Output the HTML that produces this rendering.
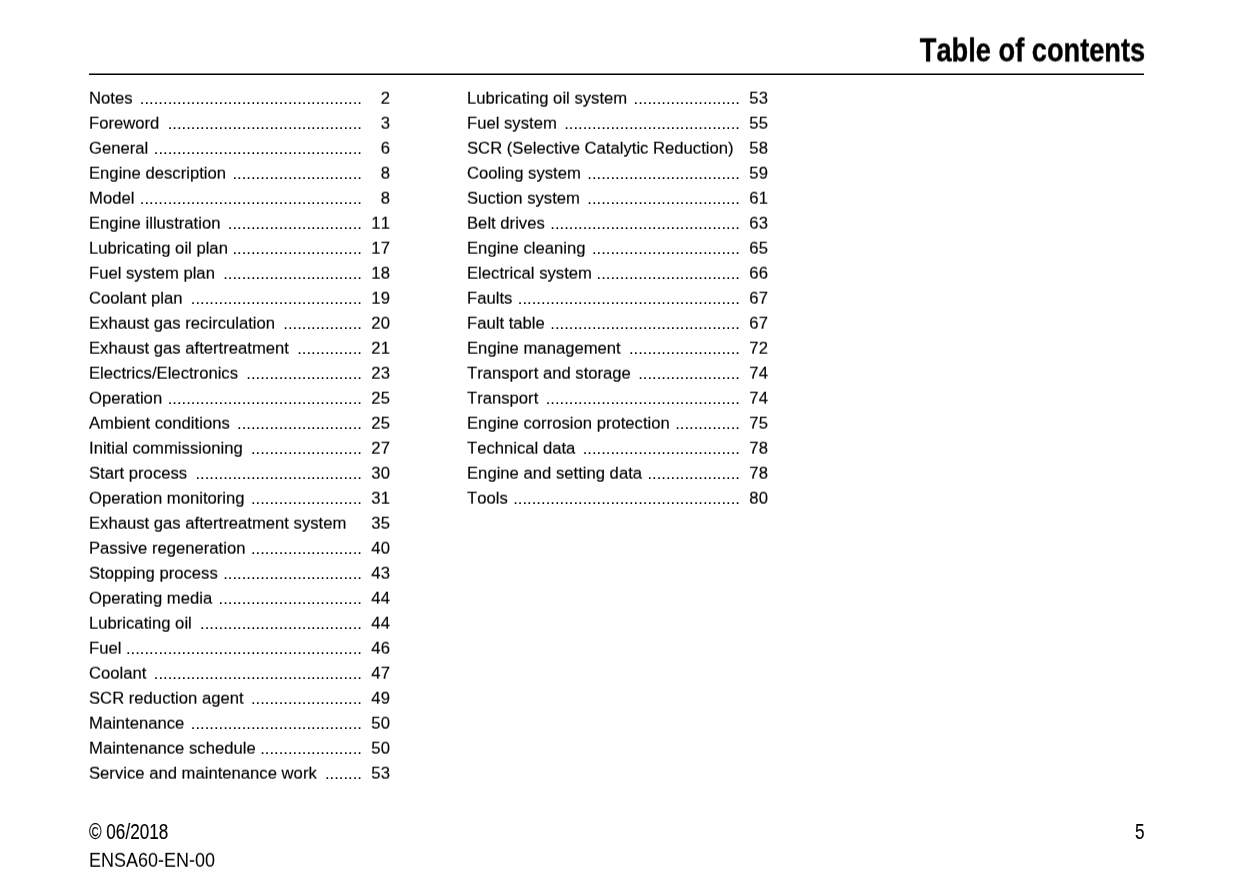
<!DOCTYPE html>
<html lang="en">
<head>
<meta charset="utf-8">
<title>Table of contents</title>
<style>
html,body{margin:0;padding:0;background:#fff;}
body{width:1240px;height:884px;position:relative;overflow:hidden;font-family:"Liberation Sans",sans-serif;color:#000;font-kerning:none;}
.title{position:absolute;right:95.1px;top:31px;font-weight:bold;font-size:33px;line-height:38px;white-space:nowrap;-webkit-text-stroke:0.4px #000;transform:perspective(1000px) translate3d(0,0.4px,0.01px) scaleX(0.825);transform-origin:100% 50%;}
.rule{position:absolute;left:89px;top:73px;width:1055px;height:2px;background:linear-gradient(to bottom,#7c7c7c 0,#7c7c7c 1px,#000 1px,#000 2px);}
.toc{position:absolute;left:0;top:0;width:1240px;height:884px;transform:perspective(1000px) translate3d(0,0.65px,0.01px);}
.r{position:absolute;width:300.9px;height:25.0px;line-height:25.0px;font-size:16.67px;white-space:nowrap;-webkit-text-stroke:0.15px #000;}
.r .l{position:absolute;left:0;top:0;}
.d{position:absolute;width:273.0px;height:25.0px;line-height:25.0px;font-size:16.67px;white-space:nowrap;text-align:right;overflow:hidden;}
.r .n{position:absolute;right:0;top:0;}
.f1{position:absolute;left:88.5px;top:820px;font-size:20.7px;line-height:24px;white-space:nowrap;-webkit-text-stroke:0.15px #000;transform:scale(0.827,1.04);transform-origin:0 50%;}
.f2{position:absolute;left:88.5px;top:848px;font-size:19.3px;line-height:24px;white-space:nowrap;transform:perspective(1000px) translate3d(0,0.8px,0.01px) scaleX(0.934);transform-origin:0 50%;}
.pg{position:absolute;right:95.1px;top:820px;font-size:20.7px;line-height:24px;white-space:nowrap;-webkit-text-stroke:0.15px #000;transform:scale(0.827,1.04);transform-origin:100% 50%;}
</style>
</head>
<body>
<div class="title">Table of contents</div>
<div class="rule"></div>
<div class="toc">
<div class="r" style="left:89px;top:85px"><span class="l">Notes</span><span class="n">2</span></div>
<div class="r" style="left:89px;top:110px"><span class="l">Foreword</span><span class="n">3</span></div>
<div class="r" style="left:89px;top:135px"><span class="l">General</span><span class="n">6</span></div>
<div class="r" style="left:89px;top:160px"><span class="l">Engine description</span><span class="n">8</span></div>
<div class="r" style="left:89px;top:185px"><span class="l">Model</span><span class="n">8</span></div>
<div class="r" style="left:89px;top:210px"><span class="l">Engine illustration</span><span class="n">11</span></div>
<div class="r" style="left:89px;top:235px"><span class="l">Lubricating oil plan</span><span class="n">17</span></div>
<div class="r" style="left:89px;top:260px"><span class="l">Fuel system plan</span><span class="n">18</span></div>
<div class="r" style="left:89px;top:285px"><span class="l">Coolant plan</span><span class="n">19</span></div>
<div class="r" style="left:89px;top:310px"><span class="l">Exhaust gas recirculation</span><span class="n">20</span></div>
<div class="r" style="left:89px;top:335px"><span class="l">Exhaust gas aftertreatment</span><span class="n">21</span></div>
<div class="r" style="left:89px;top:360px"><span class="l">Electrics/Electronics</span><span class="n">23</span></div>
<div class="r" style="left:89px;top:385px"><span class="l">Operation</span><span class="n">25</span></div>
<div class="r" style="left:89px;top:410px"><span class="l">Ambient conditions</span><span class="n">25</span></div>
<div class="r" style="left:89px;top:435px"><span class="l">Initial commissioning</span><span class="n">27</span></div>
<div class="r" style="left:89px;top:460px"><span class="l">Start process</span><span class="n">30</span></div>
<div class="r" style="left:89px;top:485px"><span class="l">Operation monitoring</span><span class="n">31</span></div>
<div class="r" style="left:89px;top:510px"><span class="l">Exhaust gas aftertreatment system</span><span class="n">35</span></div>
<div class="r" style="left:89px;top:535px"><span class="l">Passive regeneration</span><span class="n">40</span></div>
<div class="r" style="left:89px;top:560px"><span class="l">Stopping process</span><span class="n">43</span></div>
<div class="r" style="left:89px;top:585px"><span class="l">Operating media</span><span class="n">44</span></div>
<div class="r" style="left:89px;top:610px"><span class="l">Lubricating oil</span><span class="n">44</span></div>
<div class="r" style="left:89px;top:635px"><span class="l">Fuel</span><span class="n">46</span></div>
<div class="r" style="left:89px;top:660px"><span class="l">Coolant</span><span class="n">47</span></div>
<div class="r" style="left:89px;top:685px"><span class="l">SCR reduction agent</span><span class="n">49</span></div>
<div class="r" style="left:89px;top:710px"><span class="l">Maintenance</span><span class="n">50</span></div>
<div class="r" style="left:89px;top:735px"><span class="l">Maintenance schedule</span><span class="n">50</span></div>
<div class="r" style="left:89px;top:760px"><span class="l">Service and maintenance work</span><span class="n">53</span></div>
<div class="r" style="left:467px;top:85px"><span class="l">Lubricating oil system</span><span class="n">53</span></div>
<div class="r" style="left:467px;top:110px"><span class="l">Fuel system</span><span class="n">55</span></div>
<div class="r" style="left:467px;top:135px"><span class="l">SCR (Selective Catalytic Reduction)</span><span class="n">58</span></div>
<div class="r" style="left:467px;top:160px"><span class="l">Cooling system</span><span class="n">59</span></div>
<div class="r" style="left:467px;top:185px"><span class="l">Suction system</span><span class="n">61</span></div>
<div class="r" style="left:467px;top:210px"><span class="l">Belt drives</span><span class="n">63</span></div>
<div class="r" style="left:467px;top:235px"><span class="l">Engine cleaning</span><span class="n">65</span></div>
<div class="r" style="left:467px;top:260px"><span class="l">Electrical system</span><span class="n">66</span></div>
<div class="r" style="left:467px;top:285px"><span class="l">Faults</span><span class="n">67</span></div>
<div class="r" style="left:467px;top:310px"><span class="l">Fault table</span><span class="n">67</span></div>
<div class="r" style="left:467px;top:335px"><span class="l">Engine management</span><span class="n">72</span></div>
<div class="r" style="left:467px;top:360px"><span class="l">Transport and storage</span><span class="n">74</span></div>
<div class="r" style="left:467px;top:385px"><span class="l">Transport</span><span class="n">74</span></div>
<div class="r" style="left:467px;top:410px"><span class="l">Engine corrosion protection</span><span class="n">75</span></div>
<div class="r" style="left:467px;top:435px"><span class="l">Technical data</span><span class="n">78</span></div>
<div class="r" style="left:467px;top:460px"><span class="l">Engine and setting data</span><span class="n">78</span></div>
<div class="r" style="left:467px;top:485px"><span class="l">Tools</span><span class="n">80</span></div>
</div>
<div class="dots">
<div class="d" style="left:89px;top:86px">................................................</div>
<div class="d" style="left:89px;top:111px">..........................................</div>
<div class="d" style="left:89px;top:136px">.............................................</div>
<div class="d" style="left:89px;top:161px">............................</div>
<div class="d" style="left:89px;top:186px">................................................</div>
<div class="d" style="left:89px;top:211px">.............................</div>
<div class="d" style="left:89px;top:236px">............................</div>
<div class="d" style="left:89px;top:261px">..............................</div>
<div class="d" style="left:89px;top:286px">.....................................</div>
<div class="d" style="left:89px;top:311px">.................</div>
<div class="d" style="left:89px;top:336px">..............</div>
<div class="d" style="left:89px;top:361px">.........................</div>
<div class="d" style="left:89px;top:386px">..........................................</div>
<div class="d" style="left:89px;top:411px">...........................</div>
<div class="d" style="left:89px;top:436px">........................</div>
<div class="d" style="left:89px;top:461px">....................................</div>
<div class="d" style="left:89px;top:486px">........................</div>
<div class="d" style="left:89px;top:536px">........................</div>
<div class="d" style="left:89px;top:561px">..............................</div>
<div class="d" style="left:89px;top:586px">...............................</div>
<div class="d" style="left:89px;top:611px">...................................</div>
<div class="d" style="left:89px;top:636px">...................................................</div>
<div class="d" style="left:89px;top:661px">.............................................</div>
<div class="d" style="left:89px;top:686px">........................</div>
<div class="d" style="left:89px;top:711px">.....................................</div>
<div class="d" style="left:89px;top:736px">......................</div>
<div class="d" style="left:89px;top:761px">........</div>
<div class="d" style="left:467px;top:86px">.......................</div>
<div class="d" style="left:467px;top:111px">......................................</div>
<div class="d" style="left:467px;top:161px">.................................</div>
<div class="d" style="left:467px;top:186px">.................................</div>
<div class="d" style="left:467px;top:211px">.........................................</div>
<div class="d" style="left:467px;top:236px">................................</div>
<div class="d" style="left:467px;top:261px">...............................</div>
<div class="d" style="left:467px;top:286px">................................................</div>
<div class="d" style="left:467px;top:311px">.........................................</div>
<div class="d" style="left:467px;top:336px">........................</div>
<div class="d" style="left:467px;top:361px">......................</div>
<div class="d" style="left:467px;top:386px">..........................................</div>
<div class="d" style="left:467px;top:411px">..............</div>
<div class="d" style="left:467px;top:436px">..................................</div>
<div class="d" style="left:467px;top:461px">....................</div>
<div class="d" style="left:467px;top:486px">.................................................</div>
</div>
<div class="f1">© 06/2018</div>
<div class="f2">ENSA60-EN-00</div>
<div class="pg">5</div>
</body>
</html>
